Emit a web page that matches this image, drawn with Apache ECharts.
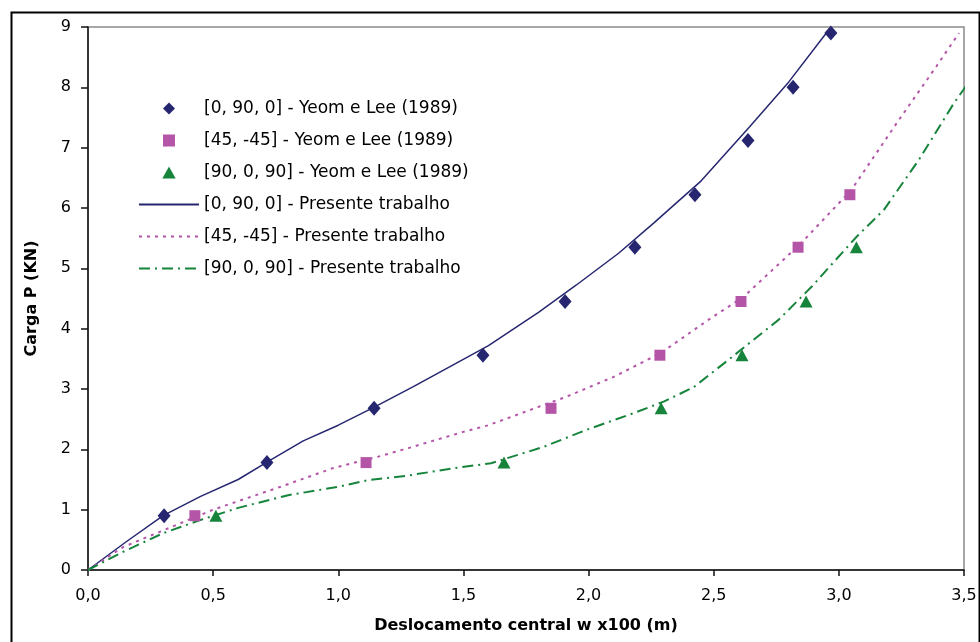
<!DOCTYPE html>
<html>
<head>
<meta charset="utf-8">
<script src="https://cdn.jsdelivr.net/npm/echarts@6/dist/echarts.min.js"></script>
<style>html,body{margin:0;padding:0;background:#fff;}#c{width:980px;height:642px;}</style>
</head>
<body>
<div id="c"></div>
<script>
// ---- data ----
const seriesNames = [
  '[0, 90, 0] - Yeom e Lee (1989)',
  '[45, -45] - Yeom e Lee (1989)',
  '[90, 0, 90] - Yeom e Lee (1989)',
  '[0, 90, 0] - Presente trabalho',
  '[45, -45] - Presente trabalho',
  '[90, 0, 90] - Presente trabalho'
];
// experimental points (Yeom e Lee 1989)
const loadLevels   = [0.9, 1.78, 2.68, 3.56, 4.45, 5.35, 6.22, 7.12, 8.0, 8.9];
const exp0900_x    = [0.304, 0.715, 1.143, 1.578, 1.906, 2.185, 2.425, 2.637, 2.817, 2.968];
const exp4545_x    = [0.427, 1.111, 1.85, 2.285, 2.609, 2.837, 3.044];
const exp90090_x   = [0.511, 1.662, 2.29, 2.613, 2.869, 3.07];
// present work curves
const cur0900_x  = [0, 0.15, 0.30, 0.45, 0.60, 0.72, 0.86, 1.0, 1.14, 1.30, 1.45, 1.60, 1.80, 1.95, 2.12, 2.26, 2.45, 2.64, 2.80, 2.95];
const cur0900_y  = [0, 0.46, 0.90, 1.22, 1.50, 1.80, 2.14, 2.40, 2.69, 3.04, 3.38, 3.72, 4.27, 4.72, 5.25, 5.75, 6.45, 7.33, 8.09, 8.90];
const cur4545_x  = [0, 0.14, 0.355, 0.50, 0.77, 0.98, 1.17, 1.28, 1.50, 1.60, 1.91, 2.10, 2.29, 2.48, 2.62, 2.85, 3.05, 3.24, 3.39, 3.48];
const cur4545_y  = [0, 0.38, 0.75, 1.00, 1.38, 1.69, 1.89, 2.02, 2.29, 2.40, 2.87, 3.20, 3.60, 4.15, 4.53, 5.42, 6.30, 7.46, 8.35, 8.90];
const cur90090_x = [0, 0.14, 0.30, 0.45, 0.60, 0.80, 1.00, 1.12, 1.27, 1.45, 1.61, 1.82, 1.99, 2.18, 2.30, 2.42, 2.57, 2.76, 2.89, 3.07, 3.18, 3.32, 3.46, 3.53];
const cur90090_y = [0, 0.30, 0.61, 0.83, 1.03, 1.24, 1.38, 1.49, 1.56, 1.68, 1.77, 2.04, 2.32, 2.60, 2.79, 3.03, 3.52, 4.15, 4.69, 5.52, 5.97, 6.80, 7.74, 8.15];
const xTicks = ['0,0','0,5','1,0','1,5','2,0','2,5','3,0','3,5'];
const yTicks = ['0','1','2','3','4','5','6','7','8','9'];

function zip(xs, ys) { return xs.map((x, i) => [x, ys[i]]); }

const NAVY = '#262670', MAG = '#B455A8', GRN = '#17843C';
const FONT = 'DejaVu Sans';
const DIAMOND = 'path://M0,-1L1,0L0,1L-1,0Z';
const SQUARE = 'path://M0,0H1V1H0Z';
const TRI = 'path://M0,-1L1,0.8L-1,0.8Z';
const HIDDEN = { color: 'rgba(0,0,0,0)', borderColor: 'rgba(0,0,0,0)', borderWidth: 0, opacity: 0 };

const chart = echarts.init(document.getElementById('c'));
chart.setOption({
  animation: false,
  backgroundColor: '#fff',
  graphic: [{
    type: 'rect', left: 9, top: 10, z: -1,
    shape: { width: 968, height: 640 },
    style: { fill: 'none', stroke: '#000', lineWidth: 2 }
  }],
  grid: { left: 88, top: 27, right: 16, bottom: 72, show: true, borderColor: '#8a8a8a', borderWidth: 1.5 },
  legend: {
    orient: 'vertical', left: 138, top: 100, padding: 0,
    itemWidth: 60, itemHeight: 12, itemGap: 15,
    textStyle: { fontFamily: FONT, fontSize: 17, color: '#000', lineHeight: 17 },
    data: [
      { name: seriesNames[0], icon: DIAMOND },
      { name: seriesNames[1], icon: SQUARE },
      { name: seriesNames[2], icon: TRI },
      { name: seriesNames[3], itemStyle: HIDDEN },
      { name: seriesNames[4], itemStyle: HIDDEN },
      { name: seriesNames[5], itemStyle: HIDDEN }
    ]
  },
  xAxis: {
    type: 'value', min: 0, max: 3.5, interval: 0.5,
    name: 'Deslocamento central w x100 (m)', nameLocation: 'middle', nameGap: 48,
    nameTextStyle: { fontFamily: FONT, fontSize: 16, fontWeight: 'bold', color: '#000' },
    axisLine: { lineStyle: { color: '#111', width: 1.5 } },
    axisTick: { show: true, length: 6, lineStyle: { color: '#111', width: 1.5 } },
    axisLabel: { margin: 18, fontFamily: FONT, fontSize: 16, color: '#000',
      formatter: v => xTicks[Math.round(v / 0.5)] },
    splitLine: { show: false }
  },
  yAxis: {
    type: 'value', min: 0, max: 9, interval: 1,
    name: 'Carga P (KN)', nameLocation: 'middle', nameGap: 48, nameRotate: 90,
    nameTextStyle: { fontFamily: FONT, fontSize: 16, fontWeight: 'bold', color: '#000' },
    axisLine: { show: true, lineStyle: { color: '#111', width: 1.5 } },
    axisTick: { show: true, length: 7, lineStyle: { color: '#111', width: 1.5 } },
    axisLabel: { margin: 17, fontFamily: FONT, fontSize: 16, color: '#000',
      formatter: v => yTicks[Math.round(v)] },
    splitLine: { show: false }
  },
  series: [
    { name: seriesNames[3], type: 'line', symbol: 'none', clip: false, z: 2,
      data: zip(cur0900_x, cur0900_y), lineStyle: { color: NAVY, width: 1.5, type: 'solid' }, itemStyle: { color: NAVY } },
    { name: seriesNames[4], type: 'line', symbol: 'none', clip: false, z: 2,
      data: zip(cur4545_x, cur4545_y), lineStyle: { color: MAG, width: 2, type: [3, 5] }, itemStyle: { color: MAG } },
    { name: seriesNames[5], type: 'line', symbol: 'none', clip: false, z: 2,
      data: zip(cur90090_x, cur90090_y), lineStyle: { color: GRN, width: 2, type: [11, 5, 2, 5] }, itemStyle: { color: GRN } },
    { name: seriesNames[0], type: 'scatter', symbol: 'diamond', symbolSize: [13, 15], z: 3,
      data: zip(exp0900_x, loadLevels), itemStyle: { color: NAVY, opacity: 1 } },
    { name: seriesNames[1], type: 'scatter', symbol: 'rect', symbolSize: [11, 11], z: 3,
      data: zip(exp4545_x, loadLevels), itemStyle: { color: MAG, opacity: 1 } },
    { name: seriesNames[2], type: 'scatter', symbol: 'triangle', symbolSize: [13, 12], z: 3,
      data: zip(exp90090_x, loadLevels), itemStyle: { color: GRN, opacity: 1 } }
  ]
});
</script>
</body>
</html>
